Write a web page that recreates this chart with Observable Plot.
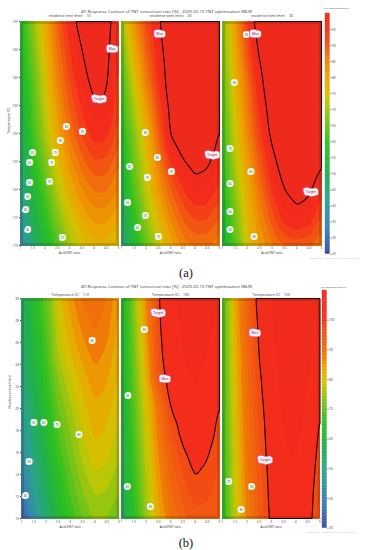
<!DOCTYPE html>
<html><head><meta charset="utf-8">
<script src="https://cdn.jsdelivr.net/npm/d3@7"></script>
<script src="https://cdn.jsdelivr.net/npm/@observablehq/plot@0.6"></script>
<style>
body{margin:0;background:#fff;}
#root{position:relative;width:372px;height:550px;overflow:hidden;background:#fff;}
</style></head><body><div id="root"></div>
<script>
// ---------- data ----------
const ratios = [1, 1.5, 2, 2.5, 3, 3.5, 4, 4.5, 5];
const temps = [110, 115, 120, 125, 130, 135, 140, 145, 150];
const times = [10, 12.5, 15, 17.5, 20, 22.5, 25, 27.5, 30];
const residenceTimes = [10, 20, 30];
const temperatures = [110, 130, 150];
const tempTicks = [110, 115, 120, 125, 130, 135, 140, 145, 150];
const timeTicks = [10, 12, 14, 16, 18, 20, 22, 24, 26, 28, 30];
const barTicksA = [25, 30, 35, 40, 45, 50, 55, 60, 65, 70, 75, 80, 85, 90, 95];
const barTicksB = [30, 40, 50, 60, 70, 80, 90, 100];
const targetLevel = 100;

// (a) conversion [%] vs ratio (columns) and temperature (rows 110..150)
const a10 = [
  [36, 47, 56, 64, 71, 76, 79, 79, 76],
  [40, 51, 60, 68.5, 75.5, 80.5, 83.5, 83.5, 80.5],
  [44, 55, 64, 73, 80, 85, 88, 88, 85],
  [47, 58.5, 68, 77, 84, 89, 92.3, 92, 88],
  [50, 62, 72, 81, 88, 93, 96.5, 96, 91],
  [52.5, 63.5, 74, 83.5, 90.5, 95.5, 99.6, 99.3, 92.5],
  [55, 65, 76, 86, 93, 98.2, 101.8, 101, 94],
  [56, 67.5, 78, 88, 95, 100, 103.5, 101.8, 95],
  [57, 70, 80, 90, 97.2, 102.5, 105, 102.5, 96]
];
const a20 = [
  [44, 56, 66, 74, 81, 86, 88, 88, 86],
  [48, 60, 70, 78.5, 85.5, 90.5, 93, 93, 90],
  [52, 64, 74, 83, 90, 95, 98, 97.5, 94],
  [55, 66.5, 76.5, 86.5, 95.5, 99.5, 102, 101, 97],
  [58, 69, 79, 90, 100.3, 104, 106, 104.5, 99.5],
  [60.5, 72.5, 83, 93, 101.7, 105.5, 107.5, 106.3, 102.5],
  [63, 76, 87, 96, 103, 107, 109, 108, 104.5],
  [66.5, 80, 90, 97.5, 104, 108, 110, 109, 106],
  [70, 84, 93, 99, 105, 109, 111, 110, 107]
];
const a30 = [
  [54, 64, 76, 83, 87, 90, 91, 90.5, 88],
  [56, 67, 78, 85.5, 91.5, 96.5, 98.5, 97, 92],
  [58, 70, 80, 88, 95.5, 100, 102, 101, 96],
  [60, 72.5, 82.5, 91, 98.3, 103, 105, 104, 100.8],
  [62, 75, 85, 94, 101.5, 106, 108, 107, 104],
  [64, 76.8, 87, 96.3, 103.3, 107.5, 109.5, 108.5, 106],
  [66, 78.5, 89, 98.5, 105, 109, 111, 110, 108],
  [67.5, 80.3, 92, 101.3, 107, 110.5, 112, 111, 109],
  [69, 82, 95, 104, 109, 112, 113, 112, 110]
];
// (b) conversion [%] vs ratio (columns) and residence time (rows 10..30)
const b110 = [
  [34, 45, 54, 62, 68, 72.5, 75.5, 75, 72.5],
  [38, 48.5, 57, 64.5, 70.5, 75, 78, 77.5, 75],
  [42, 51.5, 60, 67.5, 73, 77.5, 81, 80, 77],
  [45.5, 54.5, 62.5, 70, 75, 79.5, 83, 82, 79],
  [48.5, 57, 65, 72.5, 77, 81.5, 84.5, 83.5, 80.5],
  [51, 59.5, 67, 75, 79.5, 83.5, 86.5, 85.2, 81.8],
  [53.5, 61.5, 69, 78, 82.5, 86, 88.5, 87, 83],
  [55, 63, 70.5, 79.5, 84.5, 88.3, 90.5, 88.6, 84],
  [56, 64, 72, 81, 86.5, 90.5, 92, 90, 85]
];
const b130 = [
  [56, 66, 76, 84, 90, 94, 96.5, 96.5, 95],
  [57, 67.3, 77.3, 85.5, 92, 96.3, 99, 98.3, 96.3],
  [58, 68.5, 78.5, 87, 94, 98.5, 101, 99.8, 97.5],
  [59, 69.8, 79.8, 88.5, 97, 101, 103, 101.5, 98.8],
  [60, 71, 81, 90, 100, 103, 104.5, 103, 99.7],
  [61, 72, 82.8, 96.5, 102, 104, 105.3, 104, 101.3],
  [61.5, 73, 84.5, 98.5, 103, 105, 106, 105, 103],
  [62, 74, 86.3, 99.3, 103.5, 105.5, 106.5, 105.8, 104],
  [62, 75, 88, 99.8, 104, 106, 107, 106.5, 105]
];
const b150 = [
  [66, 79, 88, 95, 101, 103.5, 104, 102, 96],
  [66.5, 79.5, 88.8, 95.8, 101.5, 104, 104.5, 102.5, 97],
  [67, 80, 89.5, 96.6, 102, 104.5, 105, 103.3, 98],
  [67.5, 80.8, 90.2, 97.5, 102.5, 105, 105.5, 104, 99],
  [68, 81.5, 91, 98.3, 103, 105.5, 106, 104.5, 99.8],
  [68.5, 82, 91.8, 99.2, 103.5, 106, 106.5, 105.3, 101.5],
  [69, 82.8, 92.5, 100.3, 104, 106.5, 107, 106, 103],
  [69.5, 83.5, 93.3, 101, 104.5, 107, 107.5, 106.5, 104.3],
  [70, 84, 94, 102, 105, 107, 108, 107, 105.5]
];

// Target / Max markers
const aMarkers = [
  [{r: 4.74, y: 145.1, s: "Max"}, {r: 4.21, y: 136.1, s: "Target"}],
  [{r: 2.56, y: 147.8, s: "Max"}, {r: 4.71, y: 126.2, s: "Target"}],
  [{r: 2.33, y: 147.8, s: "Max"}, {r: 4.57, y: 119.5, s: "Target"}]
];
const bMarkers = [
  [],
  [{r: 2.5, y: 28.7, s: "Target"}, {r: 2.77, y: 22.7, s: "Max"}],
  [{r: 2.33, y: 26.9, s: "Max"}, {r: 2.75, y: 15.3, s: "Target"}]
];
// contour line labels
const aLabels = [
  [{r:2.88,y:131.1,s:"85"},{r:3.53,y:130.2,s:"95"},{r:2.63,y:128.6,s:"80"},{r:2.43,y:126.6,s:"75"},
   {r:1.49,y:126.6,s:"60"},{r:1.37,y:124.8,s:"55"},{r:2.27,y:124.8,s:"75"},{r:2.18,y:121.4,s:"70"},
   {r:1.37,y:121.1,s:"55"},{r:1.29,y:118.6,s:"50"},{r:1.2,y:116.4,s:"45"},{r:1.29,y:112.7,s:"45"},
   {r:2.71,y:111.4,s:"70"}],
  [{r:1.98,y:130,s:"80"},{r:2.47,y:125.7,s:"85"},{r:3.04,y:123.2,s:"95"},{r:2.06,y:122,s:"75"},
   {r:1.33,y:124.1,s:"60"},{r:1.24,y:117.5,s:"55"},{r:1.65,y:113.2,s:"60"},{r:1.98,y:115.2,s:"70"},
   {r:2.51,y:111.6,s:"75"}],
  [{r:1.48,y:139,s:"80"},{r:1.97,y:147.5,s:"95"},{r:1.3,y:127.3,s:"70"},{r:2.15,y:123.1,s:"85"},
   {r:1.3,y:121,s:"65"},{r:1.3,y:116,s:"65"},{r:1.3,y:112.7,s:"60"},{r:2.28,y:111.5,s:"80"}]
];
const bLabels = [
  [{r:3.9,y:26.1,s:"85"},{r:1.5,y:18.7,s:"55"},{r:1.91,y:18.7,s:"60"},{r:2.46,y:18.5,s:"70"},
   {r:3.36,y:17.6,s:"80"},{r:1.31,y:15.1,s:"50"},{r:1.15,y:12,s:"40"}],
  [{r:1.94,y:27.1,s:"85"},{r:1.26,y:21.1,s:"65"},{r:1.23,y:12.9,s:"60"},{r:2.18,y:11,s:"80"}],
  [{r:1.26,y:13.3,s:"75"},{r:2.2,y:12.9,s:"90"},{r:1.77,y:10.8,s:"85"}]
];

// ---------- styles ----------
const FONT = '"Open Sans","Noto Sans",sans-serif';
const palette = ["#3b4a9c","#3a7fb5","#2aa38c","#22b04a","#2cc020","#7cc418","#cfc600","#eca400","#f07a08","#f24c14","#f42c1c","#ee2a1c"];
const stopsA = [25, 33, 42, 51, 59, 67, 74, 80, 86, 91, 95, 100];
const stopsB = [30, 39, 49, 58, 66, 73, 79, 84, 87.5, 97.5, 100, 110];
const thrA = d3.range(25, 115, 2.5);
const thrB = d3.range(30, 115, 2.5);

const root = document.getElementById("root");

function tableOf(grid, rows) {
  const out = [];
  grid.forEach((row, i) => row.forEach((v, j) => out.push({r: ratios[j], y: rows[i], v})));
  return out;
}

function panel(o) {
  const mL = 24, mR = 5, mT = 10, mB = 12;
  const w = o.x1 - o.x0, h = o.y1 - o.y0;
  const common = {x: "r", y: "y", interpolate: "barycentric", x1: 1, x2: 5,
    y1: o.ydom[0], y2: o.ydom[1], pixelSize: 1, blur: 1.5};
  const marks = [
    Plot.contour(o.pts, {...common, fill: "v", thresholds: o.thr, stroke: "none"}),
    Plot.frame({stroke: "#3a1a00", strokeOpacity: 0.2, strokeWidth: 2.4, inset: 1.2}),
    Plot.contour(o.pts, {...common, value: "v", thresholds: [targetLevel], fill: "none", stroke: "#1c0404", strokeWidth: 1.1}),
    Plot.text(o.labels, {x: "r", y: "y", text: "s", fontSize: 3, fill: "#2a3a2a", stroke: "#f8fff8", strokeWidth: 3.6}),
    Plot.text(o.markers, {x: "r", y: "y", text: "s", fontSize: 3.4, fill: "#d24a86", stroke: "#d24a86", strokeWidth: 6}),
    Plot.text(o.markers, {x: "r", y: "y", text: "s", fontSize: 3.4, fill: "#80102e", stroke: "#fff2f7", strokeWidth: 4.6}),
    Plot.text([o.sub], {text: d => d, frameAnchor: "top", lineAnchor: "bottom", dy: o.subDy, fontSize: 3.6, fill: "#333"}),
    Plot.text(["Acid:DNT ratio"], {text: d => d, frameAnchor: "bottom", dy: o.xlabDy, fontSize: 3.2, fill: "#333"})
  ];
  if (o.showY) marks.push(Plot.text([o.yLabel], {text: d => d, frameAnchor: "left", dx: -12, rotate: -90, fontSize: 3.4, fill: "#333"}));
  const svg = Plot.plot({
    width: w + mL + mR, height: h + mT + mB,
    marginLeft: mL, marginRight: mR, marginTop: mT, marginBottom: mB,
    style: {background: "transparent", overflow: "visible", fontSize: "3.3px", fontFamily: FONT, color: "#444"},
    x: {domain: [1, 5], ticks: ratios, tickFormat: d => String(d), tickSize: 0.8, tickPadding: o.tickPadX, label: null},
    y: o.showY ? {domain: o.ydom, ticks: o.yTicks, tickSize: 1, tickPadding: 1.5, label: null}
               : {domain: o.ydom, axis: null},
    color: {type: "linear", domain: o.stops, range: palette, clamp: true, interpolate: "rgb"},
    marks
  });
  svg.style.position = "absolute";
  svg.style.left = (o.x0 - mL) + "px";
  svg.style.top = (o.y0 - mT) + "px";
  root.appendChild(svg);
}

function colorbar(o) {
  const mL = 0, mR = 12, mT = 3, mB = 3;
  const bar = d3.range(o.dom[0], o.dom[1], 0.5).map(a => ({a, b: a + 0.5, m: a + 0.25}));
  const svg = Plot.plot({
    width: (o.x1 - o.x0) + mL + mR, height: (o.ybot - o.ytop) + mT + mB,
    marginLeft: mL, marginRight: mR, marginTop: mT, marginBottom: mB,
    style: {background: "transparent", overflow: "visible", fontSize: "3.2px", fontFamily: FONT, color: "#444"},
    x: {domain: [0, 1], axis: null},
    y: {domain: o.dom, ticks: o.ticks, axis: "right", tickSize: 1, tickPadding: 1.2, label: null},
    color: {type: "linear", domain: o.stops, range: palette, clamp: true, interpolate: "rgb"},
    marks: [Plot.rect(bar, {x1: 0, x2: 1, y1: "a", y2: "b", fill: "m", stroke: "m", strokeWidth: 0.3})]
  });
  svg.style.position = "absolute";
  svg.style.left = (o.x0 - mL) + "px";
  svg.style.top = (o.ytop - mT) + "px";
  root.appendChild(svg);
}

// ---------- figure (a) ----------
const aGrids = [a10, a20, a30];
const aX = [[20, 118], [121, 219], [222, 321]];
aGrids.forEach((g, i) => panel({
  x0: aX[i][0], x1: aX[i][1], y0: 21, y1: 245, ydom: [110, 150],
  pts: tableOf(g, temps), thr: thrA, stops: stopsA,
  labels: aLabels[i], markers: aMarkers[i],
  sub: `residence time (min) = ${residenceTimes[i]}`, subDy: -4.3,
  xlabDy: 8.2, tickPadX: 0.8,
  showY: i === 0, yTicks: tempTicks, yLabel: "Temperature (C)"
}));
colorbar({x0: 325, x1: 329.5, ytop: 13.4, ybot: 254, dom: [25, 100], ticks: barTicksA, stops: stopsA});

// ---------- figure (b) ----------
const bGrids = [b110, b130, b150];
const bX = [[20.5, 118], [121, 219], [222, 319.5]];
bGrids.forEach((g, i) => panel({
  x0: bX[i][0], x1: bX[i][1], y0: 298.3, y1: 518.3, ydom: [10, 30],
  pts: tableOf(g, times), thr: thrB, stops: stopsB,
  labels: bLabels[i], markers: bMarkers[i],
  sub: `Temperature (C) = ${temperatures[i]}`, subDy: -3,
  xlabDy: 9, tickPadX: 1.6,
  showY: i === 0, yTicks: timeTicks, yLabel: "Residence time (min)"
}));
colorbar({x0: 322, x1: 326.5, ytop: 289.6, ybot: 527.3, dom: [30, 110], ticks: barTicksB, stops: stopsB});

// ---------- titles / captions ----------
const over = d3.select(root).append("svg")
  .attr("width", 372).attr("height", 550)
  .style("position", "absolute").style("left", "0px").style("top", "0px")
  .style("pointer-events", "none").style("font-family", FONT);
const title = "4D Response Contour of TNT conversion rate [%] - 2020-02-10 TNT optimisation (MLR)";
over.append("text").attr("x", 166.5).attr("y", 12.6).attr("text-anchor", "middle").attr("font-size", 4.3).attr("fill", "#333").text(title);
over.append("text").attr("x", 166.5).attr("y", 288.3).attr("text-anchor", "middle").attr("font-size", 4.3).attr("fill", "#333").text(title);
over.append("text").attr("x", 324).attr("y", 8.6).attr("font-size", 2.3).attr("fill", "#444").text("TNT conversion rate [%]");
over.append("text").attr("x", 321).attr("y", 288).attr("font-size", 2.3).attr("fill", "#444").text("TNT conversion rate [%]");
over.append("text").attr("x", 334).attr("y", 258.5).attr("text-anchor", "middle").attr("font-size", 2.4).attr("fill", "#b8b8b8").text("MODDE 13.1 - 2020-02-10 TNT optimisation");
over.append("text").attr("x", 331).attr("y", 533).attr("text-anchor", "middle").attr("font-size", 2.4).attr("fill", "#b8b8b8").text("MODDE 13.1 - 2020-02-10 TNT optimisation");
over.append("text").attr("x", 186).attr("y", 276.5).attr("text-anchor", "middle").attr("font-size", 12.5).attr("font-family", '"Liberation Serif","DejaVu Serif",serif').attr("fill", "#111").text("(a)");
over.append("text").attr("x", 186).attr("y", 546.5).attr("text-anchor", "middle").attr("font-size", 12.5).attr("font-family", '"Liberation Serif","DejaVu Serif",serif').attr("fill", "#111").text("(b)");
</script></body></html>
